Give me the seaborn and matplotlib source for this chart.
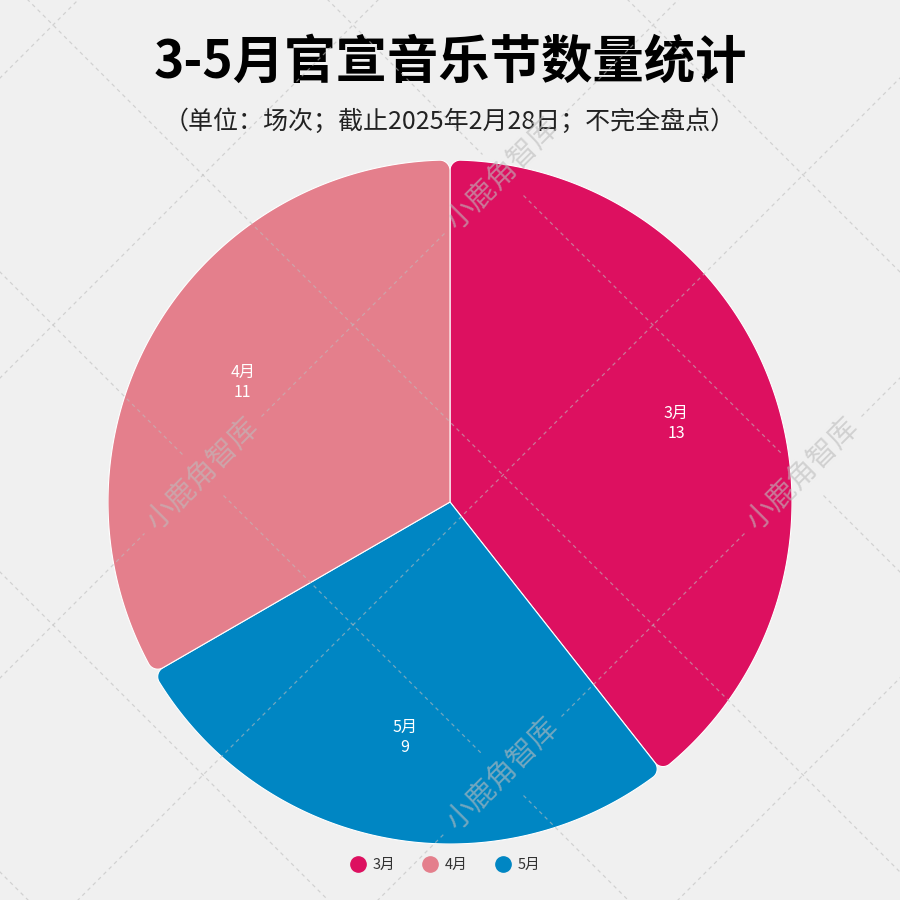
import numpy as np
import matplotlib
matplotlib.use("Agg")
import matplotlib.pyplot as plt
import matplotlib.patches as mpatches
from matplotlib.lines import Line2D
import seaborn as sns

# ---- data ----
months = ["3月", "4月", "5月"]
counts = [13, 11, 9]
colors = ["#dd1060", "#e47f8c", "#0086c3"]
pie_order = ["3月", "5月", "4月"]   # clockwise from 12 o'clock

title = "3-5月官宣音乐节数量统计"
subtitle = "（单位：场次；截止2025年2月28日；不完全盘点）"
watermark = "小鹿角智库"

bg = "#f0f0f0"

sns.set_theme(style="white")
plt.rcParams["font.family"] = ["Noto Sans CJK SC", "DejaVu Sans"]

fig = plt.figure(figsize=(9, 9), dpi=100, facecolor=bg)

# pie axes: centre at (450, 502) px, radius 342 px
ax = fig.add_axes([0.12, 56 / 900, 0.76, 0.76])
ax.set_facecolor(bg)

idx = [months.index(m) for m in pie_order]
vals = [counts[i] for i in idx]
cols = [colors[i] for i in idx]
labels = [f"{months[i]}\n{counts[i]}" for i in idx]

wedges, texts = ax.pie(vals, colors=cols, startangle=90, counterclock=False,
                       radius=1, labels=labels, labeldistance=0.7,
                       textprops=dict(color="white", fontsize=11.5))
for t in texts:
    t.set_ha("center")
    t.set_va("center")
    t.set_multialignment("center")
    t.set_linespacing(1.25)


def rounded_wedge(t1, t2, R, rc, n=40):
    # wedge with rounded outer corners (radius rc)
    t1, t2 = np.radians(t1), np.radians(t2)
    phi = np.arcsin(rc / (R - rc))
    pts = [(0.0, 0.0)]
    c1 = (R - rc) * np.array([np.cos(t1 + phi), np.sin(t1 + phi)])
    a = np.linspace(t1 - np.pi / 2, t1 + phi, n)
    pts += list(zip(c1[0] + rc * np.cos(a), c1[1] + rc * np.sin(a)))
    a = np.linspace(t1 + phi, t2 - phi, 200)
    pts += list(zip(R * np.cos(a), R * np.sin(a)))
    c2 = (R - rc) * np.array([np.cos(t2 - phi), np.sin(t2 - phi)])
    a = np.linspace(t2 - phi, t2 + np.pi / 2, n)
    pts += list(zip(c2[0] + rc * np.cos(a), c2[1] + rc * np.sin(a)))
    return np.array(pts)


for w, c in zip(wedges, cols):
    w.set_visible(False)
    poly = mpatches.Polygon(rounded_wedge(w.theta1, w.theta2, w.r, 0.03),
                            closed=True, facecolor=c, edgecolor="white",
                            linewidth=0.8, zorder=1)
    ax.add_patch(poly)

ax.set_xlim(-1, 1)
ax.set_ylim(-1, 1)
ax.set_aspect("equal")
ax.axis("off")

# titles
fig.text(0.5, 1 - 62 / 900, title, ha="center", va="center",
         fontsize=37, fontweight="bold", color="black")
fig.text(0.5, 1 - 122 / 900, subtitle, ha="center", va="center",
         fontsize=18, color="#222222")

# legend
handles = [Line2D([], [], marker="o", ls="", markersize=11,
                  markerfacecolor=c, markeredgecolor=c) for c in colors]
fig.legend(handles, months, loc="center", bbox_to_anchor=(0.495, 1 - 865 / 900),
           ncol=3, frameon=False, fontsize=10.5, handlelength=1.0,
           handletextpad=0.5, columnspacing=1.9, labelcolor="#333333")

# watermark overlay (pixel coords)
wm = fig.add_axes([0, 0, 1, 1], zorder=10)
wm.set_xlim(0, 900)
wm.set_ylim(900, 0)
wm.axis("off")
wm.patch.set_alpha(0)

wm_color = "#bdbdbd"
wm_alpha = 0.6
marks = [(503, 175), (203, 475), (803, 475), (503, 775)]

x = np.linspace(-100, 1000, 2201)
for fam, base in [("A", 28), ("B", 78)]:
    for k in range(-4, 8):
        c = base + 300 * k
        y = x - c if fam == "A" else c - x
        keep = (y > -50) & (y < 950)
        for tx, ty in marks:
            if fam == "A" and abs((tx - ty) - c) < 6:
                keep &= np.abs(x - tx) > 20
            if fam == "B" and abs((tx + ty) - c) < 6:
                keep &= np.abs(x - tx) > 58
        yy = np.where(keep, y, np.nan)
        wm.plot(x, yy, color=wm_color, alpha=wm_alpha, lw=0.9,
                ls=(0, (3, 3)))

for tx, ty in marks:
    wm.text(tx, ty, watermark, rotation=45, rotation_mode="anchor",
            ha="center", va="center", fontsize=21, color=wm_color,
            alpha=wm_alpha)

fig.savefig("out.png", dpi=100, facecolor=bg)
